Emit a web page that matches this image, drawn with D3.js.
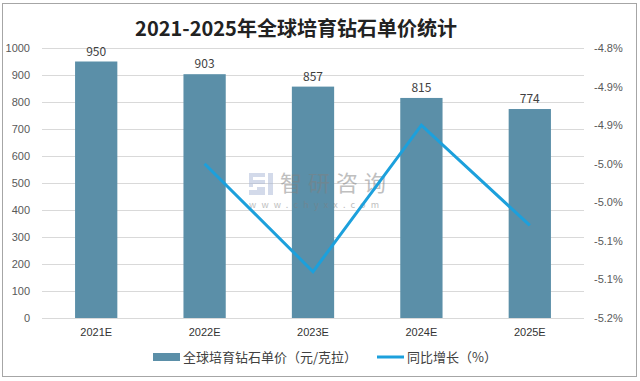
<!DOCTYPE html>
<html>
<head>
<meta charset="utf-8">
<script src="https://cdn.jsdelivr.net/npm/d3@7"></script>
<style>
  body { margin: 0; background: #fff; }
  svg { display: block; font-family: "Noto Sans CJK SC", "Open Sans", sans-serif; }
</style>
</head>
<body>
<div id="chart"></div>
<script>
"use strict";

var years = ["2021E", "2022E", "2023E", "2024E", "2025E"];
var prices = [950, 903, 857, 815, 774];          // 元/克拉
var growthYears = ["2022E", "2023E", "2024E", "2025E"];
var growth = [-4.95, -5.09, -4.90, -5.03];       // %
var leftTicks = [0, 100, 200, 300, 400, 500, 600, 700, 800, 900, 1000];
var rightTicks = [-4.80, -4.85, -4.90, -4.95, -5.00, -5.05, -5.10, -5.15];
var rightLabels = ["-4.8%", "-4.9%", "-4.9%", "-5.0%", "-5.0%", "-5.1%", "-5.1%", "-5.2%"];

var width = 640, height = 381;
var barColor = "#5b8fa8", lineColor = "#1ca0dc";

var svg = d3.select("#chart").append("svg")
    .attr("width", width)
    .attr("height", height);

// frame
svg.append("rect")
   .attr("x", 2.5).attr("y", 3.5)
   .attr("width", 634).attr("height", 373)
   .attr("fill", "#fff")
   .attr("stroke", "#a6a6a6");

var x = d3.scaleBand().domain(years).range([42, 584]).paddingInner(0.61).paddingOuter(0.305);
var yL = d3.scaleLinear().domain([0, 1000]).range([318, 48]);
var yR = d3.scaleLinear().domain([-5.15, -4.80]).range([318, 48]);

// title
svg.append("text")
   .attr("x", 296).attr("y", 36)
   .attr("text-anchor", "middle")
   .attr("font-size", 20).attr("font-weight", "bold")
   .attr("fill", "#222")
   .text("2021-2025年全球培育钻石单价统计");

// gridlines
svg.append("g").selectAll("line")
   .data(leftTicks)
   .enter().append("line")
   .attr("x1", 42).attr("x2", 584)
   .attr("y1", function (d) { return Math.round(yL(d)) + 0.5; })
   .attr("y2", function (d) { return Math.round(yL(d)) + 0.5; })
   .attr("stroke", "#d9d9d9");

// left axis
var gl = svg.append("g")
    .attr("transform", "translate(36,0)")
    .call(d3.axisLeft(yL).tickValues(leftTicks).tickSize(0).tickPadding(6)
        .tickFormat(function (d) { return String(d); }));
gl.select(".domain").remove();
gl.selectAll("text").attr("font-size", 11).attr("fill", "#595959").attr("font-family", "inherit");

// right axis
var gr = svg.append("g")
    .attr("transform", "translate(588,0)")
    .call(d3.axisRight(yR).tickValues(rightTicks).tickSize(0).tickPadding(6)
        .tickFormat(function (d, i) { return rightLabels[i]; }));
gr.select(".domain").remove();
gr.selectAll("text").attr("font-size", 11).attr("fill", "#595959").attr("font-family", "inherit");

// x axis labels
var gx = svg.append("g")
    .attr("transform", "translate(0,318)")
    .call(d3.axisBottom(x).tickSize(0).tickPadding(10));
gx.select(".domain").remove();
gx.selectAll("text").attr("font-size", 11).attr("fill", "#333").attr("font-family", "inherit");

// bars
svg.append("g").selectAll("rect")
   .data(prices)
   .enter().append("rect")
   .attr("x", function (d, i) { return x(years[i]); })
   .attr("y", function (d) { return yL(d); })
   .attr("width", x.bandwidth())
   .attr("height", function (d) { return yL(0) - yL(d); })
   .attr("fill", barColor);

// value labels
svg.append("g").selectAll("text")
   .data(prices)
   .enter().append("text")
   .attr("x", function (d, i) { return x(years[i]) + x.bandwidth() / 2; })
   .attr("y", function (d) { return yL(d) - 6; })
   .attr("text-anchor", "middle")
   .attr("font-size", 12).attr("fill", "#404040")
   .text(function (d) { return d; });

// watermark (sits on top of the bars)
var wm = svg.append("g").attr("opacity", 0.5);
wm.append("path")
  .attr("d", "M249,173h16v4h-12v3h12v4h-12v3h-4z M257,187h8v4h-8z M249,190h16v5h-16z M268,173h5v22h-5z")
  .attr("fill", "#a9b6d6");
wm.append("text")
  .attr("x", 280).attr("y", 191)
  .attr("font-size", 22).attr("letter-spacing", 6)
  .attr("fill", "#808080")
  .text("智研咨询");
wm.append("text")
  .attr("x", 249).attr("y", 208)
  .attr("font-size", 9).attr("letter-spacing", 5.2)
  .attr("fill", "#808080")
  .text("www.chyxx.com");

// growth line
var line = d3.line()
    .x(function (d, i) { return x(growthYears[i]) + x.bandwidth() / 2; })
    .y(function (d) { return yR(d); });
svg.append("path")
   .datum(growth)
   .attr("d", line)
   .attr("fill", "none")
   .attr("stroke", lineColor)
   .attr("stroke-width", 3);

// legend
var lg = svg.append("g");
lg.append("rect")
  .attr("x", 153).attr("y", 353).attr("width", 27).attr("height", 8)
  .attr("fill", barColor);
lg.append("text")
  .attr("x", 183).attr("y", 362)
  .attr("font-size", 13).attr("fill", "#404040")
  .text("全球培育钻石单价（元/克拉）");
lg.append("line")
  .attr("x1", 377).attr("x2", 404).attr("y1", 357).attr("y2", 357)
  .attr("stroke", lineColor).attr("stroke-width", 3);
lg.append("text")
  .attr("x", 407).attr("y", 362)
  .attr("font-size", 13).attr("fill", "#404040")
  .text("同比增长（%）");
</script>
</body>
</html>
